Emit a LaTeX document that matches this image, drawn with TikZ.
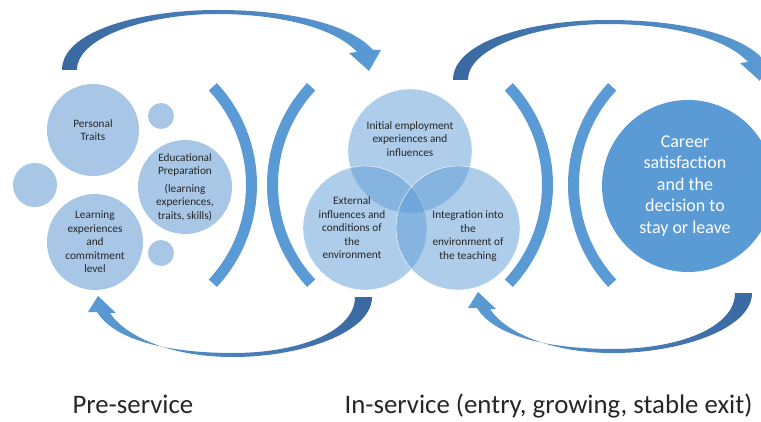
\documentclass[tikz,border=0pt]{standalone}
\usepackage{fontspec}
\setmainfont{Carlito}
\usepackage{tikz}
\usetikzlibrary{shapes.geometric, positioning}

\definecolor{accent}{RGB}{91,155,213}
\definecolor{accentdark}{RGB}{58,104,160}
\definecolor{softblue}{RGB}{168,199,231}
\definecolor{inktext}{RGB}{38,38,38}

\tikzstyle{disc} = [circle, 
inner sep=0pt, 
fill=softblue, 
align=center, 
text=inktext, 
font=\fontsize{11.3}{13.5}\selectfont]
\tikzstyle{venn} = [circle, 
inner sep=0pt, 
minimum size=124pt, 
fill=accent, 
fill opacity=0.5, 
draw=white, 
thin]
\tikzstyle{smalltext} = [align=center, 
text=inktext, 
font=\fontsize{11.3}{13.5}\selectfont]
\tikzstyle{bracket} = [line width=11pt, draw=accent]
\tikzstyle{phase} = [anchor=base west, 
text=black!85, 
font=\fontsize{26.8}{31}\selectfont]

\begin{document}
\begin{tikzpicture}[x=1pt, y=1pt]
    \useasboundingbox (0,0) rectangle (761,421);
    \clip (0,0) rectangle (761,421);

    % pre-service cluster
    \node (traits) [disc, minimum size=92pt] at (93,291) {Personal\\Traits};
    \node (learning) [disc, minimum size=96pt] at (95,179) {Learning\\experiences\\and\\commitment\\level};
    \node (edu) [disc, minimum size=94pt] at (185,234) {Educational\\Preparation\\[4pt](learning\\experiences,\\traits, skills)};
    \node (dotleft) [disc, minimum size=44pt] at (35,236) {};
    \node (dottop) [disc, minimum size=26pt] at (161,305) {};
    \node (dotbottom) [disc, minimum size=26pt] at (161,168) {};

    % in-service overlap
    \node (venTop) [venn] at (410,270) {};
    \node (venLeft) [venn] at (365,193) {};
    \node (venRight) [venn] at (458,193) {};
    \node at (venTop.center) (initial) [smalltext, yshift=12pt] {Initial employment\\experiences and\\influences};
    \node at (venLeft.center) (external) [smalltext, xshift=-13pt] {External\\influences and\\conditions of\\the\\environment};
    \node at (venRight.center) (integration) [smalltext, xshift=10pt, yshift=-8pt] {Integration into\\the\\environment of\\the teaching};

    \node (career) [circle, inner sep=0pt, minimum size=172pt, fill=accent] at (688,235) {};
    \node at (career.center) (decision) [align=center, text=white, font=\fontsize{18}{21.5}\selectfont, xshift=-3pt] {Career\\satisfaction\\and the\\decision to\\stay or leave};

    % brackets between the phases
    \draw [bracket] (107.5,236) ++(-43:144) arc (-43:43:144);
    \draw [bracket] (416.5,236) ++(137:144) arc (137:223:144);
    \draw [bracket] (403.5,236) ++(-43:144) arc (-43:43:144);
    \draw [bracket] (717.5,236) ++(137:144) arc (137:223:144);

    % bent arrows over the top
    \shade [left color=accentdark, right color=accent]
        (62,351) .. controls (62,390) and (140,411) .. (217,411)
        .. controls (290,411) and (350,397) .. (373,371)
        -- (381,371) -- (369,350) -- (349,368) -- (357,369)
        .. controls (335,393) and (280,407) .. (217,407)
        .. controls (150,407) and (77,385) .. (77,351) -- cycle;
    \shade [left color=accentdark, right color=accent, shift={(391,-10)}]
        (62,351) .. controls (62,390) and (140,411) .. (217,411)
        .. controls (290,411) and (350,397) .. (373,371)
        -- (381,371) -- (369,350) -- (349,368) -- (357,369)
        .. controls (335,393) and (280,407) .. (217,407)
        .. controls (150,407) and (77,385) .. (77,351) -- cycle;

    % bent arrows underneath
    \shade [left color=accent, right color=accentdark]
        (355,124) -- (372,124) .. controls (372,88) and (300,64) .. (233,64)
        .. controls (170,64) and (125,85) .. (110,108)
        -- (116,108) -- (98,125) -- (88,109) -- (97,109)
        .. controls (115,80) and (170,68) .. (233,68)
        .. controls (300,68) and (355,90) .. (355,124) -- cycle;
    \shade [left color=accent, right color=accentdark, shift={(380,4)}]
        (355,124) -- (372,124) .. controls (372,88) and (300,64) .. (233,64)
        .. controls (170,64) and (125,85) .. (110,108)
        -- (116,108) -- (98,125) -- (88,109) -- (97,109)
        .. controls (115,80) and (170,68) .. (233,68)
        .. controls (300,68) and (355,90) .. (355,124) -- cycle;

    \node (pre) [phase] at (69,8) {Pre-service};
    \node (inservice) [phase] at (341,8) {In-service (entry, growing, stable exit)};
\end{tikzpicture}
\end{document}
